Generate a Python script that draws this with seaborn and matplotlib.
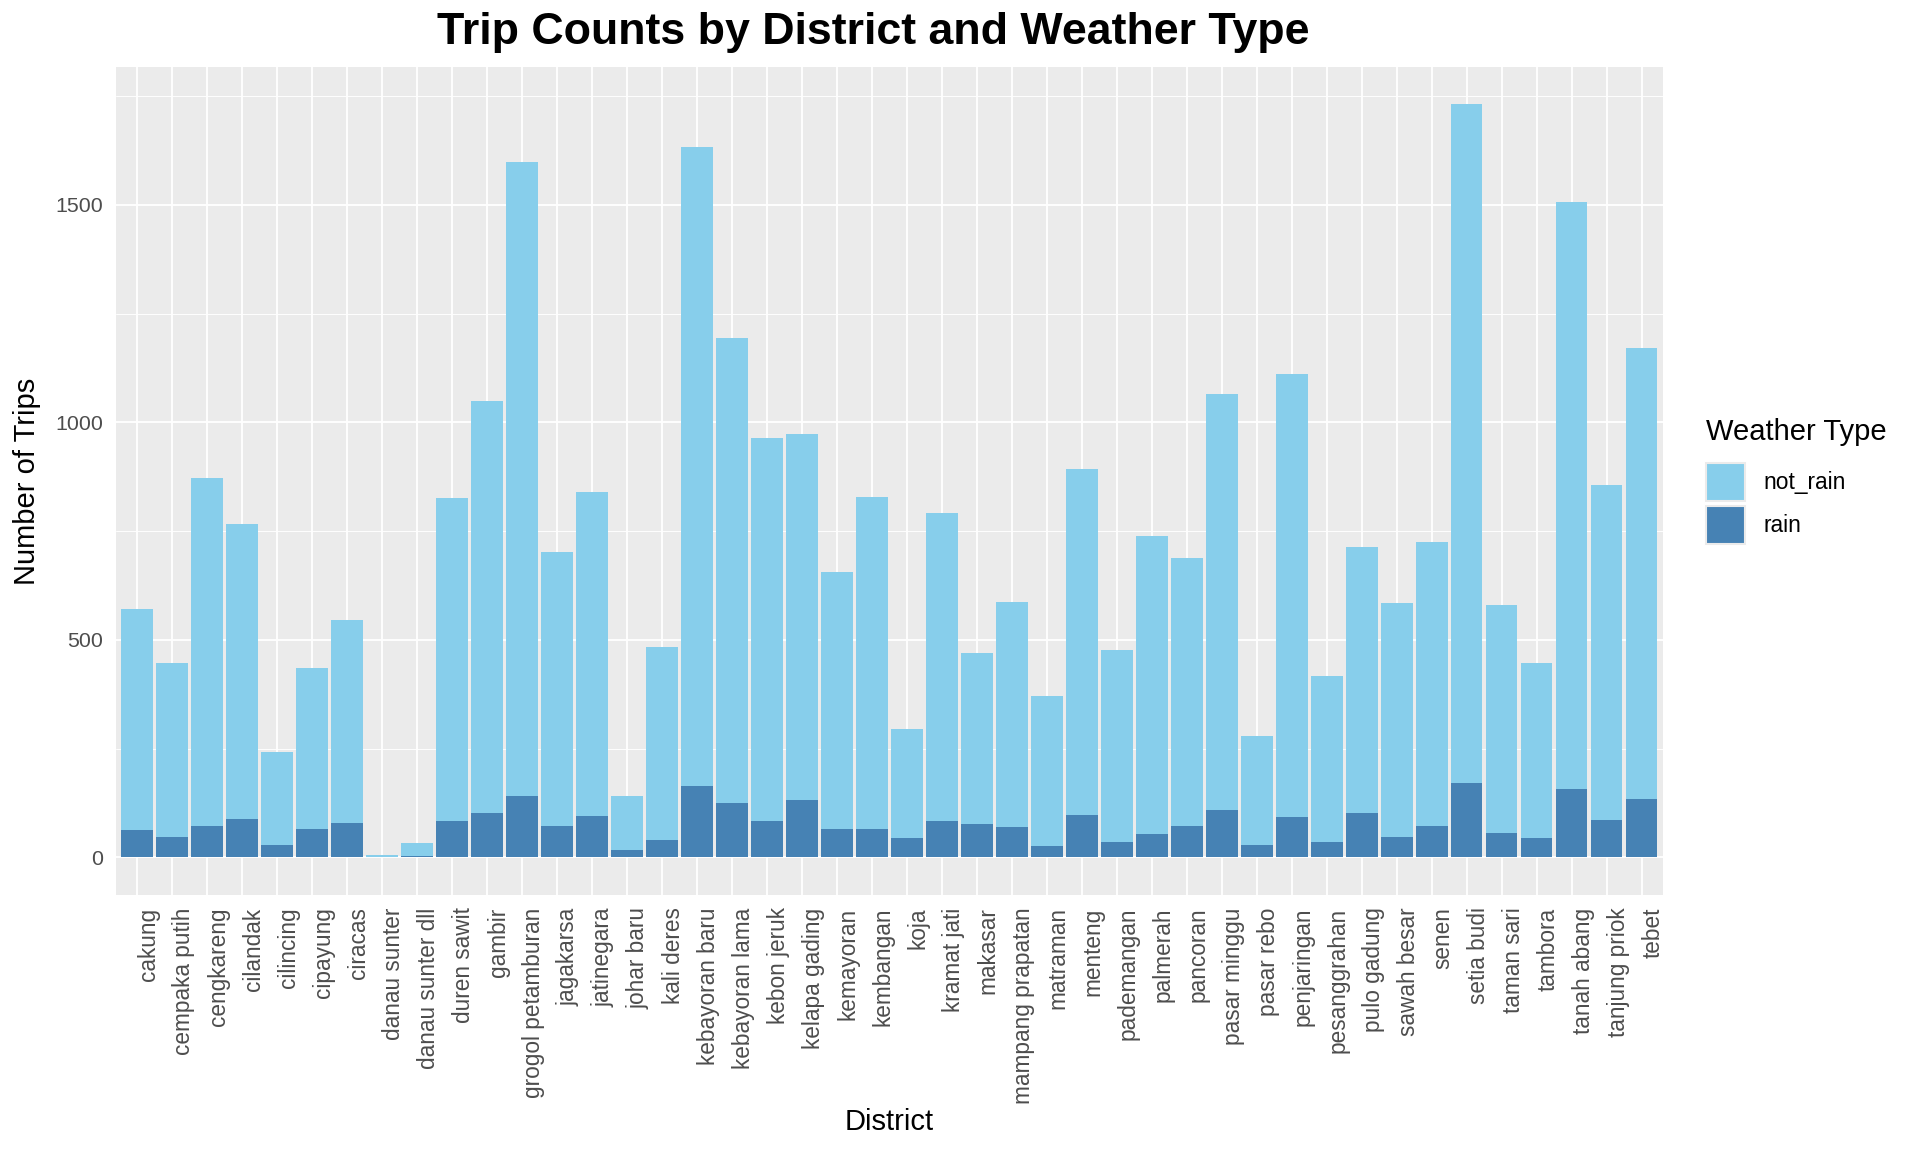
import numpy as np
import matplotlib
matplotlib.use("Agg")
import matplotlib.pyplot as plt
from matplotlib.patches import Patch
from matplotlib.ticker import MultipleLocator
import seaborn as sns

# trip counts per district
districts = [
    "cakung", "cempaka putih", "cengkareng", "cilandak", "cilincing", "cipayung",
    "ciracas", "danau sunter", "danau sunter dll", "duren sawit", "gambir",
    "grogol petamburan", "jagakarsa", "jatinegara", "johar baru", "kali deres",
    "kebayoran baru", "kebayoran lama", "kebon jeruk", "kelapa gading", "kemayoran",
    "kembangan", "koja", "kramat jati", "makasar", "mampang prapatan", "matraman",
    "menteng", "pademangan", "palmerah", "pancoran", "pasar minggu", "pasar rebo",
    "penjaringan", "pesanggrahan", "pulo gadung", "sawah besar", "senen",
    "setia budi", "taman sari", "tambora", "tanah abang", "tanjung priok", "tebet",
]
not_rain = [
    508, 399, 800, 677, 214, 370, 465, 4, 31, 742, 947,
    1456, 629, 745, 124, 442, 1469, 1068, 880, 842, 589,
    763, 251, 708, 392, 518, 343, 795, 440, 685, 616,
    956, 251, 1020, 382, 611, 537, 652, 1559, 523, 401,
    1348, 768, 1035,
]
rain = [
    64, 47, 72, 89, 29, 66, 80, 1, 3, 84, 102,
    142, 72, 95, 16, 41, 164, 125, 84, 131, 66,
    66, 45, 84, 77, 69, 27, 98, 36, 54, 72,
    110, 29, 92, 36, 102, 47, 72, 172, 57, 45,
    158, 87, 135,
]
weather_types = ["not_rain", "rain"]
colors = {"not_rain": "#87CEEB", "rain": "#4682B4"}

total = np.array(not_rain) + np.array(rain)

sns.set_style("darkgrid", {"axes.facecolor": "#EBEBEB", "grid.color": "white",
                           "text.color": "black", "axes.labelcolor": "black"})
plt.rcParams["font.family"] = ["Liberation Sans", "DejaVu Sans"]

fig, ax = plt.subplots(figsize=(19.2, 11.52), dpi=100)
fig.subplots_adjust(left=0.0604, right=0.866, top=0.9418, bottom=0.2231)

# stacked: draw the totals first, then rain on top of them from zero
sns.barplot(x=districts, y=total, color=colors["not_rain"], saturation=1,
            width=0.9, linewidth=0, ax=ax)
sns.barplot(x=districts, y=rain, color=colors["rain"], saturation=1,
            width=0.9, linewidth=0, ax=ax)

n = len(districts)
ax.set_xlim(-0.6, n - 0.4)
ax.set_ylim(-86.5, 1817)
ax.yaxis.set_major_locator(MultipleLocator(500))
ax.yaxis.set_minor_locator(MultipleLocator(250))
ax.set_axisbelow(True)
ax.grid(which="major", color="white", linewidth=1.3)
ax.grid(which="minor", axis="y", color="white", linewidth=0.65)
for s in ax.spines.values():
    s.set_visible(False)

ax.tick_params(axis="both", which="major", length=5, width=1.4, color="#333333",
               labelsize=16.3, labelcolor="#4D4D4D", pad=4)
ax.tick_params(axis="y", which="major", labelsize=15.4)
ax.tick_params(axis="y", which="minor", length=0)
ax.set_xticks(range(n))
ax.set_xticklabels(districts, rotation=90, ha="left")

ax.set_xlabel("")
ax.set_ylabel("")
fig.text(0.463, 0.026, "District", fontsize=21, ha="center", va="center")
fig.text(0.014, 0.582, "Number of Trips", fontsize=21, rotation=90,
         ha="center", va="center")
fig.text(0.455, 0.972, "Trip Counts by District and Weather Type",
         fontsize=32.2, fontweight="bold", ha="center", va="center")

handles = [Patch(facecolor=colors[w], edgecolor="#EBEBEB", linewidth=1.5)
           for w in weather_types]
leg = ax.legend(handles, weather_types, title="Weather Type", loc="center left",
                bbox_to_anchor=(1.028, 0.5), frameon=False, fontsize=16.4,
                title_fontsize=21, handlelength=1.7, handleheight=2.2,
                handletextpad=0.83, labelspacing=0.2, borderpad=0,
                borderaxespad=0)
leg._legend_box.align = "left"
leg._legend_box.sep = 12

plt.savefig("out.png", dpi=100)
